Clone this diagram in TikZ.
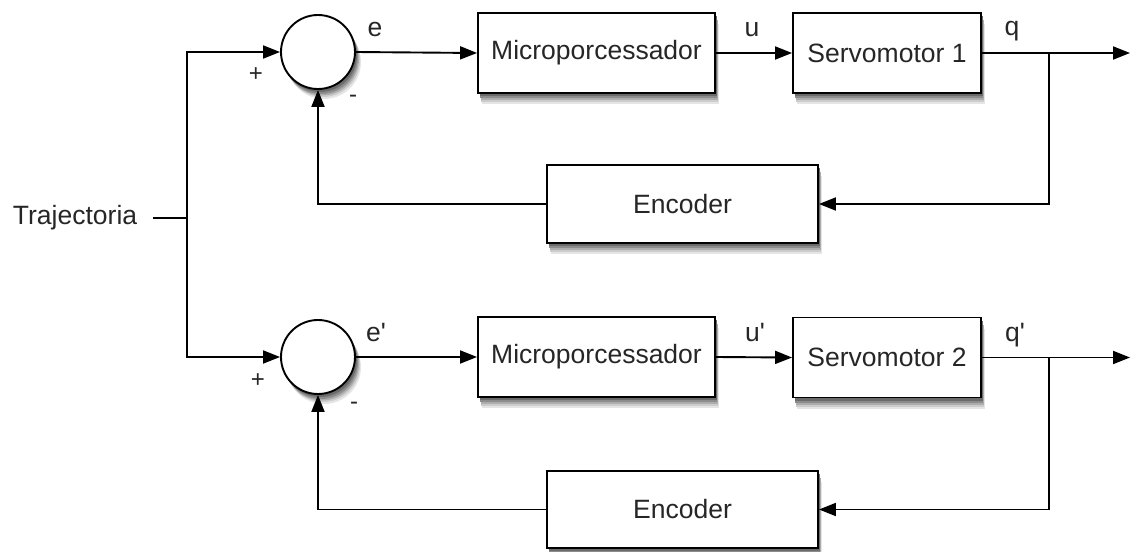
\documentclass[tikz,border=0pt]{standalone}
\usepackage{fontspec}
\setmainfont{Liberation Sans}
\usetikzlibrary{arrows.meta,calc}
\newcommand{\pr}{\textquotesingle}
\definecolor{shA}{gray}{0.90}
\definecolor{shB}{gray}{0.80}
\definecolor{shC}{gray}{0.68}
\definecolor{shD}{gray}{0.55}
\definecolor{shE}{gray}{0.42}
\begin{document}
\begin{tikzpicture}[x=1pt,y=-1pt,
  line width=1.9pt,
  >={Triangle[length=17pt,width=13pt]},
  block/.style={draw,fill=white,rectangle,minimum height=80pt,inner sep=0pt,
    font=\fontsize{26.5}{31}\selectfont,text=black!85},
  sumnode/.style={draw,fill=white,circle,minimum size=74pt,inner sep=0pt},
  lab/.style={font=\fontsize{26.5}{31}\selectfont,text=black!85,anchor=base,inner sep=0pt},
  sign/.style={font=\fontsize{24}{28}\selectfont,text=black!85,inner sep=0pt},
  shadowpiece/.style={draw=none,fill=#1}
]
\useasboundingbox (0,0) rectangle (1131,551);

% soft shadows: stacked grey copies, lightest and farthest first
\foreach \cx/\cy/\bw/\bh in {596.5/53/237/80, 887/53/188/80, 682.5/204/271/78,
                           596.5/357/237/80, 887/357.5/188/80, 682.5/509.5/271/77}{
  \path[shadowpiece=shA] ({\cx-\bw/2+4},{\cy-\bh/2+11}) rectangle ({\cx+\bw/2+4},{\cy+\bh/2+11});
  \path[shadowpiece=shB] ({\cx-\bw/2+3},{\cy-\bh/2+9}) rectangle ({\cx+\bw/2+3},{\cy+\bh/2+9});
  \path[shadowpiece=shC] ({\cx-\bw/2+2.5},{\cy-\bh/2+7}) rectangle ({\cx+\bw/2+2.5},{\cy+\bh/2+7});
  \path[shadowpiece=shD] ({\cx-\bw/2+2},{\cy-\bh/2+5}) rectangle ({\cx+\bw/2+2},{\cy+\bh/2+5});
  \path[shadowpiece=shE] ({\cx-\bw/2+1.5},{\cy-\bh/2+3}) rectangle ({\cx+\bw/2+1.5},{\cy+\bh/2+3});
}
\foreach \cx/\cy in {318/52, 318/357}{
  \path[shadowpiece=shA] ({\cx+6},{\cy+10}) circle (37);
  \path[shadowpiece=shB] ({\cx+5},{\cy+8}) circle (37);
  \path[shadowpiece=shC] ({\cx+4},{\cy+6.5}) circle (37);
  \path[shadowpiece=shD] ({\cx+3},{\cy+5}) circle (37);
  \path[shadowpiece=shE] ({\cx+2},{\cy+3}) circle (37);
}

% input
\node[lab,anchor=base west] (tr) at (12,224) {Trajectoria};
\coordinate (split) at (187,218);

% upper loop
\node[sumnode] (s1) at (318,52) {};
\node[block,minimum width=237pt] (m1) at (596.5,53) {Microporcessador};
\node[block,minimum width=188pt] (v1) at (887,53) {Servomotor 1};
\node[block,minimum width=271pt,minimum height=78pt] (c1) at (682.5,204) {Encoder};
\coordinate (b1) at (1049,53);
\coordinate (o1) at (1130,53);

% lower loop
\node[sumnode] (s2) at (318,357) {};
\node[block,minimum width=237pt] (m2) at (596.5,357) {Microporcessador};
\node[block,minimum width=188pt] (v2) at (887,357.5) {Servomotor 2};
\node[block,minimum width=271pt,minimum height=77pt] (c2) at (682.5,509.5) {Encoder};
\coordinate (b2) at (1049,357.5);
\coordinate (o2) at (1130,357.5);

% connectors
\draw ($(tr.east |- split)+(15,0)$) -- (split);
\draw[->] (split) |- (s1.west);
\draw[->] (split) |- (s2.west);

\draw[->] (s1.east) -- (m1.west);
\draw[->] (m1.east) -- (v1.west);
\draw[->] (v1.east) -- (o1);
\draw[->] (b1) |- (c1.east);
\draw[->] (c1.west) -| (s1.south);

\draw[->] (s2.east) -- (m2.west);
\draw[->] (m2.east) -- (v2.west);
\draw[->] (v2.east) -- (o2);
\draw[->] (b2) |- (c2.east);
\draw[->] (c2.west) -| (s2.south);

% signal labels
\node[lab] (le1) at (375,37) {e};
\node[lab] (lu1) at (752,37) {u};
\node[lab] (lq1) at (1012,36) {q};
\node[sign] (p1) at (256,75) {+};
\node[sign] (n1) at (353,99) {-};

\node[lab] (le2) at (376,341) {e\pr};
\node[lab] (lu2) at (755,341) {u\pr};
\node[lab] (lq2) at (1015,341) {q\pr};
\node[sign] (p2) at (258,381) {+};
\node[sign] (n2) at (354,406) {-};
\end{tikzpicture}
\end{document}
